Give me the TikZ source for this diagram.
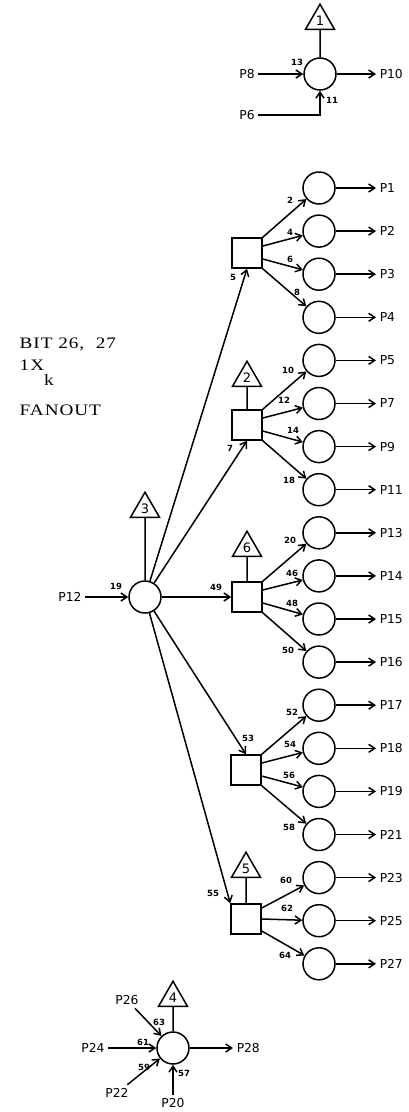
\documentclass[tikz,border=0pt]{standalone}
\usepackage{fontspec}
\setmainfont{Liberation Serif}
\newfontfamily\typefont[LetterSpace=5]{Liberation Serif}
\newfontfamily\letfont{DejaVu Sans}
\usetikzlibrary{arrows.meta,shapes.geometric}

\newcommand{\widetext}[1]{\scalebox{1.2}[1]{#1}}

\tikzset{
  arr/.style={-{Straight Barb[length=6pt,width=8pt]}},
  gate/.style={draw,circle,minimum size=32pt,inner sep=0pt},
  box/.style={draw,minimum size=30pt,inner sep=0pt},
  tri/.style={draw,regular polygon,regular polygon sides=3,minimum size=33.5pt,
    inner sep=0pt,font=\letfont\fontsize{13}{13}\selectfont},
  sig/.style={font=\letfont\fontsize{12.3}{13}\selectfont,inner sep=3pt},
  num/.style={font=\letfont\bfseries\fontsize{8.5}{9}\selectfont,inner sep=0pt},
  title/.style={anchor=base west,inner sep=0pt,font=\typefont\fontsize{16}{17}\selectfont},
}

\begin{document}
\begin{tikzpicture}[x=1pt,y=-1pt,line width=1.5pt]
    \useasboundingbox (0,0) rectangle (408,1112);

    % Title
    \node[title] (bit) at (19,348) {\widetext{BIT 26,\ \ 27}};
    \node[title] (kx) at (19,370) {\widetext{1X\raisebox{-15pt}{k}}};
    \node[title] (fan) at (19,415) {\widetext{FANOUT}};

    % Top gate
    \node[gate] (top) at (320,74) {};
    \node[tri] (t1) at (320,21) {\raisebox{-2.5pt}{1}};
    \draw (t1.south) -- (top.north);
    \node[sig] (p8) at (247,74) {P8};
    \node[sig] (p6) at (247,115) {P6};
    \node[sig,anchor=west] (p10) at (376,74) {P10};
    \draw[arr] (p8) -- (top);
    \draw[arr] (p6) -| (top);
    \draw[arr] (top) -- (p10);

    % Output gates
    \foreach \p [count=\i from 0] in {1,2,3,4,5,7,9,11,13,14,15,16,17,18,19,21,23,25,27} {
        \node[gate] (c\p) at (319,{188+43.1*\i}) {};
        \node[sig,anchor=west] (p\p) at (376,{188+43.1*\i}) {P\p};
        \draw[arr] (c\p) -- (p\p);
    }

    % Fanout boxes
    \node[box] (sqA) at (247,253) {};
    \node[box] (sqB) at (247,425) {};
    \node[box] (sqC) at (247,597) {};
    \node[box] (sqD) at (246,770) {};
    \node[box] (sqE) at (246,919) {};
    \node[tri] (t2) at (247,378) {\raisebox{-2.5pt}{2}};
    \node[tri] (t6) at (247,548) {\raisebox{-2.5pt}{6}};
    \node[tri] (t5) at (246,869) {\raisebox{-2.5pt}{5}};
    \draw (t2.south) -- (sqB.north);
    \draw (t6.south) -- (sqC.north);
    \draw (t5.south) -- (sqE.north);

    \foreach \s/\a/\b/\c/\d in {A/1/2/3/4, B/5/7/9/11, C/13/14/15/16, D/17/18/19/21} {
        \draw[arr] (sq\s.north east) -- (c\a);
        \draw[arr] ([yshift=7pt]sq\s.east) -- (c\b);
        \draw[arr] ([yshift=-6pt]sq\s.east) -- (c\c);
        \draw[arr] (sq\s.south east) -- (c\d);
    }
    \draw[arr] ([yshift=11pt]sqE.east) -- (c23);
    \draw[arr] (sqE.east) -- (c25);
    \draw[arr] ([yshift=-12pt]sqE.east) -- (c27);

    % Hub gate
    \node[gate] (hub) at (145,597) {};
    \node[tri] (t3) at (145,509) {\raisebox{-2.5pt}{3}};
    \draw (t3.south) -- (hub.north);
    \node[sig] (p12) at (70,597) {P12};
    \draw[arr] (p12) -- (hub);
    \draw[arr] (hub) -- (sqA.south);
    \draw[arr] (hub) -- (sqB.south);
    \draw[arr] (hub) -- (sqC.west);
    \draw[arr] (hub) -- (sqD.north);
    \draw[arr] (hub) -- (sqE.north west);

    % Bottom gate
    \node[gate] (bot) at (173,1048) {};
    \node[tri] (t4) at (173,998) {\raisebox{-2.5pt}{4}};
    \draw (t4.south) -- (bot.north);
    \node[sig] (p24) at (93,1048) {P24};
    \node[sig] (p26) at (127,1000) {P26};
    \node[sig] (p22) at (117,1093) {P22};
    \node[sig] (p20) at (173,1103) {P20};
    \node[sig,anchor=west] (p28) at (233,1048) {P28};
    \draw[arr] (p24) -- (bot);
    \draw[arr] (p26) -- (bot);
    \draw[arr] (p22) -- (bot);
    \draw[arr] (p20) -- (bot);
    \draw[arr] (bot) -- (p28);

    % Pin numbers
    \foreach \n/\x/\y in {13/297/62, 11/332/100, 19/116/586, 49/216/587, 5/233/277,
        7/230/448, 53/248/738, 55/213/893, 2/290/200, 4/290/232, 6/290/259, 8/297/292,
        10/288/370, 12/284/400, 14/293/430, 18/289/480, 20/290/540, 46/292/573,
        48/292/603, 50/288/650, 52/292/712, 54/290/744, 56/289/775, 58/289/827,
        60/286/880, 62/287/908, 64/285/955, 61/143/1042, 63/159/1022, 59/144/1067,
        57/184/1073}
        \node[num] (n\n) at (\x,\y) {\n};
\end{tikzpicture}
\end{document}
